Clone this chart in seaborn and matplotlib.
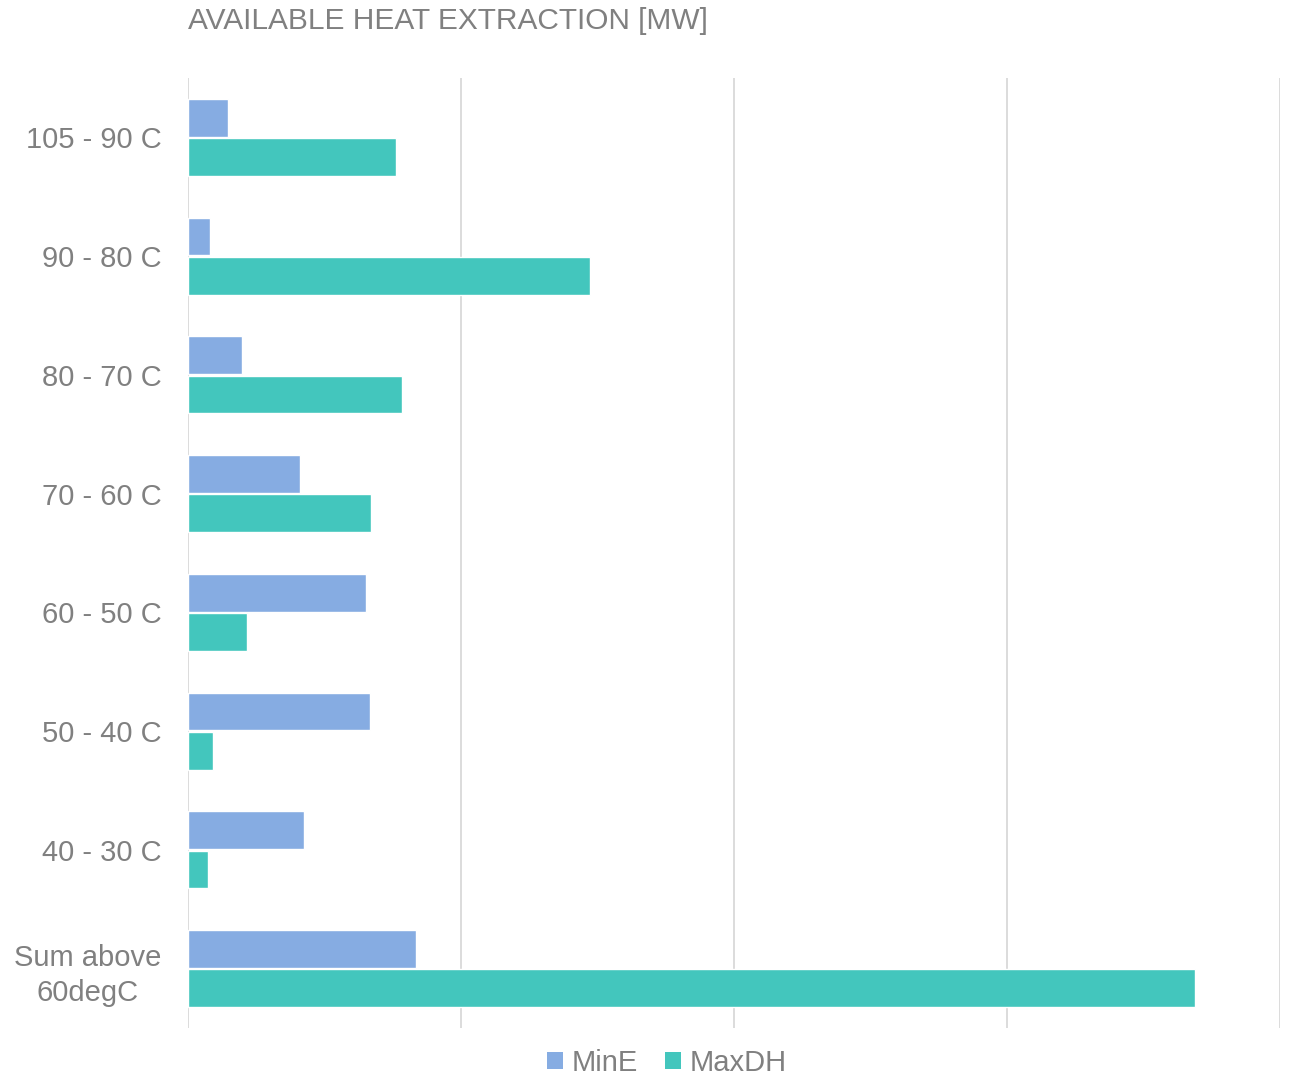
import matplotlib
matplotlib.use("Agg")
import matplotlib.pyplot as plt
import seaborn as sns
import pandas as pd
from matplotlib.patches import Patch

categories = ["105 - 90 C", "90 - 80 C", "80 - 70 C", "70 - 60 C",
              "60 - 50 C", "50 - 40 C", "40 - 30 C", "Sum above\n60degC"]
mine = [1.47, 0.81, 1.98, 4.10, 6.52, 6.67, 4.25, 8.36]
maxdh = [7.62, 14.73, 7.84, 6.70, 2.16, 0.92, 0.73, 36.89]
series = ["MinE", "MaxDH"]
colors = ["#86ACE2", "#43C6BD"]

df = pd.DataFrame({
    "category": categories * 2,
    "value": mine + maxdh,
    "series": [series[0]] * len(categories) + [series[1]] * len(categories),
})

sns.set_theme(style="white")
plt.rcParams['font.family'] = ['Liberation Sans', 'DejaVu Sans']

fig = plt.figure(figsize=(12.89, 10.75), dpi=100)
ax = fig.add_axes([188/1289, 1 - 1028/1075, (1280-188)/1289, (1028-78)/1075])

sns.barplot(data=df, y="category", x="value", hue="series", orient="h",
            palette=colors, width=0.66, gap=0.04, edgecolor="white",
            linewidth=1, ax=ax, legend=False, saturation=1)

ax.set_xlim(0, 40)
ax.set_ylim(len(categories) - 0.5, -0.5)
ax.set_xticks([0, 10, 20, 30, 40])
ax.set_xticklabels([])
ax.xaxis.grid(True, color="#D9D9D9", linewidth=1.3)
ax.set_axisbelow(True)
for s in ax.spines.values():
    s.set_visible(False)
ax.tick_params(axis="both", length=0)
ax.set_xlabel("")
ax.set_ylabel("")
ax.tick_params(axis="y", labelsize=21, labelcolor="#808080", pad=19)
for lbl in ax.get_yticklabels():
    lbl.set_multialignment("center")
    lbl.set_linespacing(1.35)

fig.text(188/1289, 1 - 7/1075, "AVAILABLE HEAT EXTRACTION [MW]", ha="left", va="top",
         fontsize=21.5, color="#808080")

handles = [Patch(facecolor=c, edgecolor="none") for c in colors]
fig.legend(handles, series, loc="lower center", bbox_to_anchor=(667/1289, -0.026),
           ncol=2, frameon=False, fontsize=21, labelcolor="#808080",
           handlelength=0.55, handleheight=0.55, handletextpad=0.3, columnspacing=0.9)

fig.savefig("out.png", dpi=100)
